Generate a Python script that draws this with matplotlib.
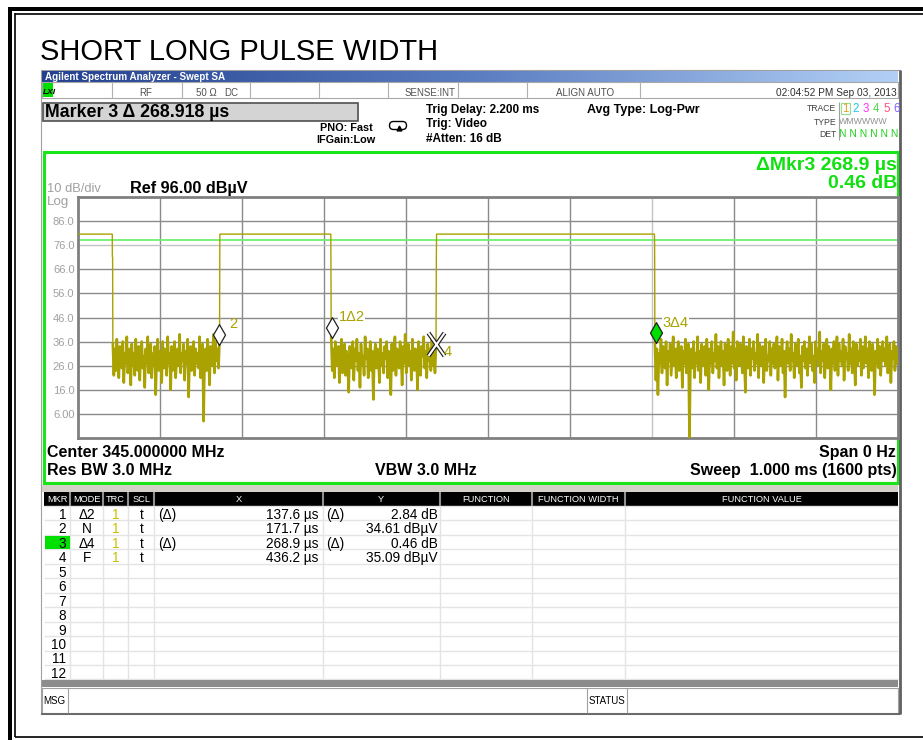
import numpy as np
import matplotlib
matplotlib.use('Agg')
import matplotlib.pyplot as plt
from matplotlib.patches import Rectangle, FancyBboxPatch
from matplotlib.path import Path
from matplotlib.colors import LinearSegmentedColormap

plt.rcParams['font.family'] = ['Liberation Sans', 'DejaVu Sans']

# ---- data ----
title = "SHORT LONG PULSE WIDTH"
ref_level = 96.0          # dBuV, top of screen
db_div = 10.0
sweep_us = 1000.0         # 1.000 ms sweep
y_ticks = [86, 76, 66, 56, 46, 36, 26, 16, 6]
y_tick_labels = ["86.0", "76.0", "66.0", "56.0", "46.0", "36.0", "26.0", "16.0", "6.00"]
trig_level = 78.2
pulse_level = 80.6

# pulse edges (us): fall, rise, fall, rise, fall
edge_times = [41.8, 173.0, 308.3, 437.0, 703.0]

# noise floor between pulses (dBuV), estimated from the trace
noise1 = [35, 22, 33, 24, 37, 28, 21, 34, 30, 25, 36, 19, 31, 27, 38, 23, 29, 33, 18, 35,
          26, 31, 22, 37, 28, 24, 34, 20, 32, 36, 25, 30, 17, 33, 27, 38, 23, 29, 35, 21,
          31, 26, 34, 14, 30, 37, 24, 32, 28, 19, 36, 25, 33, 29, 22, 38, 27, 31, 16, 34,
          24, 30, 36, 21, 29, 33, 26, 39, 23, 31, 28, 35, 20, 32, 27, 37, 13, 30, 34, 24,
          29, 36, 22, 33, 27, 31, 25, 38, 21, 30, 35, 3, 28, 33, 24, 37, 29, 18, 34, 26,
          31, 39, 23, 36, 28, 33, 25, 37]
noise2 = [38, 24, 33, 21, 36, 29, 26, 34, 19, 31, 37, 23, 28, 35, 22, 32, 27, 15, 34, 30,
          25, 36, 20, 33, 28, 37, 24, 31, 17, 35, 26, 30, 22, 38, 29, 33, 21, 27, 36, 24,
          32, 12, 30, 35, 25, 33, 28, 19, 37, 26, 31, 23, 34, 29, 36, 21, 32, 27, 14, 35,
          24, 30, 38, 22, 33, 28, 25, 36, 31, 18, 34, 27, 39, 23, 30, 35, 26, 32, 20, 37,
          29, 24, 33, 31, 16, 36, 27, 22, 34, 30, 38, 25, 32, 21, 35, 28, 33, 24, 37, 26,
          31, 23, 35]
noise3 = [36, 20, 33, 14, 31, 27, 37, 23, 34, 29, 25, 36, 18, 32, 28, 35, 22, 30, 38, 26,
          33, 21, 31, 36, 24, 29, 34, 17, 32, 27, 37, 23, 30, 35, -4, 28, 33, 25, 36, 21,
          31, 27, 38, 24, 32, 19, 35, 29, 26, 34, 22, 37, 30, 16, 33, 27, 36, 23, 31, 28,
          39, 25, 34, 21, 30, 36, 26, 32, 18, 35, 29, 24, 37, 31, 22, 34, 27, 40, 25, 33,
          20, 36, 29, 26, 35, 31, 23, 38, 28, 15, 34, 30, 25, 37, 22, 33, 29, 36, 24, 31,
          27, 39, 21, 35, 30, 26, 34, 19, 32, 37, 24, 30, 28, 36, 22, 33, 27, 35, 25, 31,
          38, 20, 34, 29, 26, 37, 23, 32, 13, 30, 36, 27, 33, 24, 39, 28, 31, 21, 35, 26,
          32, 37, 23, 30, 17, 34, 28, 36, 25, 33, 22, 31, 38, 27, 35, 24, 30, 19, 36, 29,
          33, 26, 40, 23, 32, 28, 35, 21, 31, 37, 25, 34, 29, 16, 33, 27, 36, 24, 30, 38,
          22, 35, 28, 32, 26, 37, 20, 34, 29, 31, 24, 39, 27, 33, 23, 36, 30, 18, 35, 26,
          32, 28, 37, 22, 34, 25, 31, 38, 27, 33, 21, 36, 29, 24, 35, 30, 14, 32, 27, 37,
          25, 34, 22, 31, 36, 28, 33, 26, 38, 23, 30, 35, 19, 32, 29, 36, 24, 34, 27, 31]

# marker table
mkr_num = ["1", "2", "3", "4"]
mkr_mode = ["Δ2", "N", "Δ4", "F"]
mkr_delta = [True, False, True, False]
mkr_x_us = [137.6, 171.7, 268.9, 436.2]
mkr_y_val = [2.84, 34.61, 0.46, 35.09]
mkr_y_unit = ["dB", "dBµV", "dB", "dBµV"]

# ---- figure ----
W, H = 923, 740
fig = plt.figure(figsize=(W / 100, H / 100), dpi=100)
ov = fig.add_axes([0, 0, 1, 1])
ov.axis('off')

OLIVE = '#a9a200'
GREEN = '#19e619'
GRAY_TXT = '#a0a0a0'


def box(x0, y0, x1, y1, fc='none', ec='none', lw=0.0, z=1):
    ov.add_patch(Rectangle((x0, y0), x1 - x0, y1 - y0, facecolor=fc, edgecolor=ec,
                           linewidth=lw, zorder=z))


def txt(x, y, s, size, color='black', weight='normal', ha='left', **kw):
    ov.text(x, y, s, fontsize=size, color=color, fontweight=weight, ha=ha,
            va='baseline', zorder=5, **kw)


def vline(x, y0, y1, color, lw=1.0, z=3):
    ov.plot([x, x], [y0, y1], color=color, lw=lw, zorder=z, solid_capstyle='butt')


def hline(y, x0, x1, color, lw=1.0, z=3):
    ov.plot([x0, x1], [y, y], color=color, lw=lw, zorder=z, solid_capstyle='butt')


# outer page frame
box(8, 7, 12, 740, fc='black')
box(8, 7, 923, 11, fc='black')
vline(15, 13, 737, 'black', 1.2)
hline(13.5, 15, 923, 'black', 1.2)
hline(736.5, 15, 923, 'black', 1.2)

txt(40, 60, title, 21)

# analyzer screen
box(41, 70, 900, 713.5, fc='white', ec='#a0a0a0', lw=0.8)
vline(899.5, 70, 714, '#606060', 2)
hline(713.5, 41, 900, '#606060', 1.2)

cm = LinearSegmentedColormap.from_list('tb', ['#23408f', '#5a7cc0', '#b2d0f6'])
ov.imshow(np.linspace(0, 1, 256)[None, :], cmap=cm, extent=[42, 898, 82, 71],
          aspect='auto', zorder=2)
txt(45, 79.5, "Agilent Spectrum Analyzer - Swept SA", 7.1, color='white', weight='bold')

# status row
box(42, 82, 898, 97.5, fc='white', ec='#a8a8a8', lw=0.8, z=2)
for xs in [111.7, 181.7, 250, 319.3, 388.3, 457.7, 526.7, 640]:
    vline(xs, 82, 97.5, '#b0b0b0', 0.8)
box(42.5, 83, 53, 96.5, fc='#00e000', z=3)
txt(43, 94, "LXI", 6, weight='bold', style='italic')
txt(146, 95.5, "RF", 7, color='#505050', ha='center')
txt(196, 95.5, "50 Ω", 7, color='#505050')
txt(224, 95.5, "DC", 7, color='#505050')
txt(405, 95.5, "SENSE:INT", 7, color='#505050')
txt(556, 95.5, "ALIGN AUTO", 7, color='#505050')
txt(897, 95.5, "02:04:52 PM Sep 03, 2013", 7.3, color='#303030', ha='right')

# settings area
box(43, 102.5, 358, 120.5, fc='#d4d4d4', ec='#505050', lw=1.2, z=2)
txt(45, 116.7, "Marker 3 Δ 268.918 µs", 12.8, weight='bold')
txt(346, 131, "PNO: Fast", 7.8, weight='bold', ha='center')
txt(345.5, 143.3, "IFGain:Low", 7.8, weight='bold', ha='center')
ov.add_patch(FancyBboxPatch((389.5, 121.5), 17, 8, boxstyle='round,pad=0,rounding_size=4',
                            fc='white', ec='black', lw=1, zorder=4))
ov.plot([399], [127.5], marker='^', ms=3.5, color='black', zorder=5)
txt(426, 112.7, "Trig Delay: 2.200 ms", 8.5, weight='bold')
txt(426, 126.9, "Trig: Video", 8.5, weight='bold')
txt(426, 141.7, "#Atten: 16 dB", 8.5, weight='bold')
txt(587, 112.7, "Avg Type: Log-Pwr", 9, weight='bold')

txt(836, 111, "TRACE", 6.2, color='#404040', ha='right')
txt(836, 125, "TYPE", 6.2, color='#404040', ha='right')
txt(836, 137, "DET", 6.2, color='#404040', ha='right')
vline(838.5, 102, 140, '#a0a0a0', 0.8)
trace_cols = ['#e8a020', '#20c8e8', '#ff30ff', '#50e050', '#ff5078', '#8060ff']
for i, c in enumerate(trace_cols):
    txt(845 + i * 10.35, 111.5, str(i + 1), 8.3, color=c, ha='center')
box(840.5, 102.5, 849.5, 113.5, ec='#90e090', lw=0.8, z=4)
txt(839, 124.5, "WMWWWW", 6.3, color='#909090')
txt(839, 137, "N N N N N N", 7.4, color='#20d020')

# plot panel
box(43.5, 151.5, 897.5, 483, fc='white', ec=GREEN, lw=2.2, z=2)
txt(897, 170, "ΔMkr3 268.9 µs", 14, color='#10e010', weight='bold', ha='right')
txt(897, 188.3, "0.46 dB", 14, color='#10e010', weight='bold', ha='right')
txt(47, 192.3, "10 dB/div", 9.3, color=GRAY_TXT)
txt(47, 205, "Log", 9.6, color=GRAY_TXT)
txt(130, 193.3, "Ref 96.00 dBµV", 11.7, weight='bold')
txt(896, 237.3, "TRIG LVL", 6.6, color='#30d030', ha='right')
txt(47, 456.7, "Center 345.000000 MHz", 11.5, weight='bold')
txt(47, 475, "Res BW 3.0 MHz", 11.5, weight='bold')
txt(476.5, 475, "VBW 3.0 MHz", 11.5, weight='bold', ha='right')
txt(896, 456.7, "Span 0 Hz", 11.5, weight='bold', ha='right')
txt(897, 475, "Sweep  1.000 ms (1600 pts)", 11.5, weight='bold', ha='right')

# marker table
box(42, 484.5, 898, 491.5, fc='#d4d0c8', z=2)
box(44, 492, 898, 506, fc='black', z=2)
cols = [44, 70, 103.3, 128.3, 154.3, 322.7, 440, 531.7, 625, 898]
heads = ["MKR", "MODE", "TRC", "SCL", "X", "Y", "FUNCTION", "FUNCTION WIDTH", "FUNCTION VALUE"]
for i, hd in enumerate(heads):
    txt((cols[i] + cols[i + 1]) / 2, 502.3, hd, 6.7, color='white', ha='center')
for xs in cols[1:-1]:
    vline(xs, 492, 506, '#909090', 1.5, z=4)
row_h = 14.45
for r in range(13):
    hline(506 + r * row_h, 44, 898, '#e4e4e4', 1.0, z=2)
for xs in cols[1:-1]:
    vline(xs, 506, 679.5, '#e4e4e4', 1.0, z=2)
box(45, 506 + 2 * row_h + 0.8, 70, 506 + 3 * row_h - 0.5, fc='#00e000', z=3)
for r in range(12):
    base = 506 + (r + 1) * row_h - 1.5
    txt(66, base, str(r + 1), 9.8, ha='right')
for r in range(len(mkr_num)):
    base = 506 + (r + 1) * row_h - 1.5
    txt(86.7, base, mkr_mode[r], 9.8, ha='center')
    txt(116, base, "1", 9.8, color='#c8c000', ha='center')
    txt(141.7, base, "t", 9.8, ha='center')
    if mkr_delta[r]:
        txt(158, base, "(Δ)", 9.8)
        txt(326.5, base, "(Δ)", 9.8)
    txt(318.5, base, f"{mkr_x_us[r]:.1f} µs", 9.8, ha='right')
    txt(437.5, base, f"{mkr_y_val[r]:.2f} {mkr_y_unit[r]}", 9.8, ha='right')
box(42, 679.5, 898, 687, fc='#8c8c8c', z=2)
box(42, 688, 898, 713, fc='white', ec='#a0a0a0', lw=0.8, z=2)
for xs in [68, 587, 627]:
    vline(xs, 688, 713, '#a0a0a0', 0.8)
txt(43, 704, "MSG", 7)
txt(588.5, 704, "STATUS", 7)

ov.set_xlim(0, W)
ov.set_ylim(H, 0)

# ---- trace axes ----
ax = fig.add_axes([78 / W, 1 - 438 / H, 820 / W, 241 / H])
ax.set_xlim(0, sweep_us)
ax.set_ylim(ref_level - 10 * db_div, ref_level)
ax.set_xticks([100, 200, 300, 400, 500, 600, 700, 800, 900])
ax.set_yticks(y_ticks)
ax.set_yticklabels(y_tick_labels, color=GRAY_TXT, fontsize=8)
ax.set_xticklabels([])
ax.tick_params(length=0, pad=2.5)
ax.grid(True, color='#8a8a8a', lw=1.0)
ax.set_axisbelow(True)
ax.get_ygridlines()[1].set_color('#c4c4c4')
ax.get_xgridlines()[6].set_color('#c4c4c4')
for sp in ax.spines.values():
    sp.set_color('#808080')
    sp.set_linewidth(2)

# assemble trace from pulses and noise floors
f1, r1, f2, r2, f3 = edge_times
t = [0, f1, f1 + 0.1, f1 + 0.4]
v = [pulse_level, pulse_level, 71.3, 71.0]
t_n1 = list(np.linspace(f1 + 0.7, r1 - 0.4, len(noise1)))
t += t_n1
v += noise1
t += [r1, f2]
v += [pulse_level, pulse_level]
t_n2 = list(np.linspace(f2 + 0.5, r2 - 0.4, len(noise2)))
t += t_n2
v += noise2
t += [r2, r2 + 0.3, f3]
v += [71.0, pulse_level, pulse_level]
t += [f3 + 0.2]
v += [75.5]
t_n3 = list(np.linspace(f3 + 0.5, sweep_us, len(noise3)))
t += t_n3
v += noise3

ax.axhline(trig_level, color='#70f070', lw=1.3, zorder=2)
ax.plot(t, v, color=OLIVE, lw=1.0, zorder=3)
# noise floor looks solid on screen: draw it a bit heavier
for tn, vn in [(t_n1, noise1), (t_n2, noise2), (t_n3, noise3)]:
    ax.plot(tn, vn, color=OLIVE, lw=1.9, zorder=3)

# markers
m2 = (mkr_x_us[1], mkr_y_val[1])
m1 = (m2[0] + mkr_x_us[0], m2[1] + mkr_y_val[0])
m4 = (mkr_x_us[3], mkr_y_val[3])
m3 = (m4[0] + mkr_x_us[2], m4[1] + mkr_y_val[2])

diamond = Path([(0, 0), (0.29, 0.5), (0, 1), (-0.29, 0.5), (0, 0)])
for (mx, my), fc in [(m2, 'white'), (m1, 'white'), (m3, '#00e000')]:
    ax.plot([mx], [my], marker=diamond, ms=30, mfc=fc, mec='#202020', mew=0.9,
            zorder=6, clip_on=False)
cross = Path([(-0.35, -0.5), (0.35, 0.5), (-0.35, 0.5), (0.35, -0.5)],
             [Path.MOVETO, Path.LINETO, Path.MOVETO, Path.LINETO])
ax.plot([m4[0]], [m4[1]], marker=cross, ms=16.5, mec='#202020', mew=3.2, zorder=6)
ax.plot([m4[0]], [m4[1]], marker=cross, ms=16.5, mec='white', mew=1.5, zorder=7)

lab_kw = dict(textcoords='offset points', color=OLIVE, fontsize=10.5, va='center', zorder=8)
ax.annotate("2", m2, xytext=(7.5, 15), **lab_kw)
ax.annotate("1Δ2", m1, xytext=(5, 15), bbox=dict(fc='white', ec='none', pad=0.5), **lab_kw)
ax.annotate("4", m4, xytext=(6, -6), **lab_kw)
ax.annotate("3Δ4", m3, xytext=(4.5, 14.5), bbox=dict(fc='white', ec='none', pad=0.5), **lab_kw)

fig.savefig('out.png', dpi=100)
